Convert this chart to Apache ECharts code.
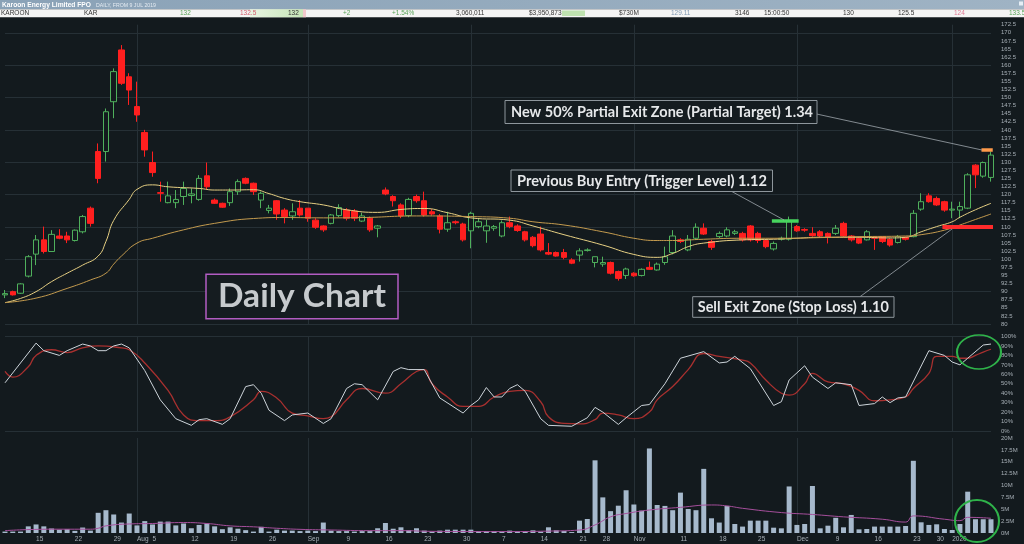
<!DOCTYPE html>
<html><head><meta charset="utf-8">
<script src="https://cdn.jsdelivr.net/npm/echarts@6/dist/echarts.min.js"></script>
<style>html,body{margin:0;padding:0;background:#131a1e;}#c{width:1024px;height:544px;}</style>
</head><body><div id="c"></div>
<script>
// ---------- categories ----------
const closedDays = ['2019-10-23','2019-10-24','2019-12-25','2019-12-26','2020-01-01'];
function buildDates(){
  const out=[]; const d=new Date(Date.UTC(2019,6,9)); const end=new Date(Date.UTC(2020,0,9));
  while(d<=end){const wd=d.getUTCDay(); const s=d.toISOString().slice(0,10);
    if(wd!==0&&wd!==6&&closedDays.indexOf(s)<0) out.push(s); d.setUTCDate(d.getUTCDate()+1);}
  return out;
}
const dates = buildDates();
const tickDates = ['2019-07-15','2019-07-22','2019-07-29','2019-08-01','2019-08-05','2019-08-12','2019-08-19','2019-08-26','2019-09-02','2019-09-09','2019-09-16','2019-09-23','2019-09-30','2019-10-07','2019-10-14','2019-10-21','2019-10-28','2019-11-01','2019-11-11','2019-11-18','2019-11-25','2019-12-02','2019-12-09','2019-12-16','2019-12-23','2019-12-30','2020-01-02'];
const tickTexts = ['15','22','29','Aug','5','12','19','26','Sep','9','16','23','30','7','14','21','28','Nov','11','18','25','Dec','9','16','23','30','2020'];
const monthStarts = ['2019-08-01','2019-09-02','2019-10-01','2019-11-01','2019-12-02','2020-01-02'];

// ---------- price (cents) ----------
const opens  = [89,90,89.5,94.8,101.6,106,102.4,107.2,107.2,105.8,108.5,115.8,133.3,133.3,148.7,164.7,156.4,147.2,139.2,129.9,120.6,117.5,117.5,119.4,119.7,118.5,125.8,118.3,117.3,117.5,120.9,125,123.5,118.3,115.1,118.1,115.2,113.4,115.8,115.8,112.1,110.3,111.1,113.5,115.2,114.9,111.8,112.7,109.6,121.4,119.4,116.8,113.5,119.4,118.1,114.7,113.4,109.3,111.6,110.9,108.8,110.1,108.8,109.6,107.2,111.3,110.3,108.5,106.8,107.8,102.1,102.1,102.1,99.8,101.3,102.7,99,98.5,99,96.2,95,95.7,95,97.5,96.7,99,102.1,106,102.9,106.5,109.6,105.5,107,107.2,108,108,110.3,108,105.8,103.2,106.2,106.2,110.1,109.2,108,108.5,108,108,111.1,107.2,106.5,106,106.8,107,106.2,105.2,106.8,107,115.5,119.6,118.8,117.8,115.2,115.2,115.8,129.1,125.7,125.3];
const closes = [89.4,89,92.4,100.8,106,102.4,107.7,106.5,106,109,113.2,111.1,125,145.6,158,154.4,152.3,144.6,133.8,126.8,120.4,119.6,118.5,121.9,120.2,125,122.4,117.3,116.1,120.9,124,123.5,120.9,120.4,115.8,114,113.2,114.7,113.7,112.7,109.9,109.1,113.7,116,112.7,112.7,113.4,109.1,110.3,120.2,118.1,113.4,118.5,118.1,113.7,114,109.3,111.3,111.3,106,114.2,111.6,110.3,110.1,111.3,110.1,108.9,106,104.2,102.9,101.6,101,100.6,98.8,102.6,102.9,100.8,99,95.7,94.1,97,94.9,96.9,96.9,98.5,100.8,107.2,105.5,106.2,109.9,107.8,103.7,108,109.1,108.5,106,106,105.8,103.9,104.9,106.5,112,108.8,109,107.3,107.2,107,109.6,107.2,106,105,108.5,106.5,105.5,104.4,107,106.2,114.2,117.8,117.8,116.8,115.2,115.5,116.3,126.1,126.1,129.9,132.2];
const lows   = [88,88.8,89.3,94.4,98.2,101.8,102.4,106.2,105,105.5,108,110.1,123.5,130.2,143.6,153.9,147.7,142.5,131.7,125.5,117.8,117.3,115.8,116.8,117.3,118.1,121.6,117.1,115.9,116.5,119.9,123.2,119.9,115.8,114.2,112.2,111.1,112.2,113.2,111.6,109.4,108.5,110.8,113,112,111.8,111.5,108.5,106.8,119.8,116.3,112.7,113,117.5,113.2,113.5,108,108.5,110.8,105.5,103.4,109.6,105.1,108.8,106.8,109.6,108.5,105.5,103.7,102.4,101.3,100.8,100,98.5,99.3,102.4,97.5,97.7,95.3,93.4,93.9,94.6,94.7,96.7,96.5,98.3,101.5,105,102.5,106,107.5,102.9,106.5,106.8,107.5,105.5,105.5,105,103.4,102.7,105.8,105.8,108.5,108.5,107,106.8,104.9,107.5,106.8,105.5,104.7,105.8,102.9,105,103.9,104.9,105.8,106.8,115,117.5,116.5,114.7,112.7,112.7,115.5,122,125.2,124];
const highs  = [90.5,90.3,92.6,101.3,107.5,110.1,109,109.3,108.5,109.2,113.7,116.3,135.8,146.6,159,166.2,157.5,154.9,140,133.3,124,124,121.4,124,121.9,126,129.9,118.8,117.5,121.9,124.7,125.3,123.7,120.9,116.8,118.3,115.8,117.3,118.3,115.8,112.7,110.5,114,117,115.8,115.5,114.4,113.2,110.6,122.2,119.8,117.3,119,120,120.9,115.5,114,114.7,112,111.3,114.7,112.7,112.2,110.6,112,113.2,110.8,108.8,107.2,110.1,105,102.4,103.2,100.3,103.4,103.4,100.8,100.8,99.3,96.5,97.4,96,97.2,99.3,99,103.9,109,106.5,107.5,111.1,111.1,106,108.6,109.9,109.1,108.5,110.6,108.5,106.2,105.5,107,113.2,110.6,109.6,109.9,109,108.3,110.6,111.6,107.5,106.8,109,107,107.2,106.5,107.5,107,115.2,120.4,120.4,119.4,118.1,117.8,117.8,126.6,129.4,130.2,133.3];

// moving averages: [barIndex, value]
const maFast = [[0,86.6],[2,87.9],[4,90],[6,93.1],[8,95.7],[10,98.2],[12,101],[13,105.5],[14,112],[16,118.5],[17,121.6],[19,123],[21,122.4],[25,121.9],[27,121.4],[29,121.4],[32,121.5],[34,120.3],[36,118.8],[38,117.8],[41,116.8],[44,115.3],[48,114.5],[51,115.4],[54,115.7],[57,114.4],[60,112.8],[65,112.1],[68,110.3],[72,107.6],[77,104.4],[81,101.5],[84,100.6],[86,101.8],[88,103.9],[90,105],[95,106],[99,106.2],[102,106.5],[105,106.8],[110,106.8],[114,106.6],[116,106.8],[118,108.5],[120,110.1],[122,111.6],[123,113],[125,115.3],[127,117.3]];
const maSlow = [[0,86.6],[4,88],[8,91],[11,93.6],[13,95.7],[14,98.5],[15,101],[17,105],[19,106.5],[23,109.1],[27,111.1],[32,112.6],[36,112.9],[41,112.8],[46,112.9],[53,113.4],[60,113.2],[65,112.7],[68,111.6],[72,110.6],[77,108.5],[81,106.5],[84,105.8],[86,105.8],[90,106.2],[95,106.5],[100,106.5],[105,106.7],[110,107],[116,107.2],[118,107.6],[121,109],[123,110.6],[125,112.3],[127,114]];

// stochastic (%): [barIndex, value]
const stochK = [[0,51],[4,93],[5,85],[7,80],[8,85],[10,92],[11,90],[12,85],[13,85],[14,90],[15,92],[16,88],[18,64],[20,33],[22,13],[24,6],[25,12],[26,13],[28,7],[29,13],[31,47],[32,49],[33,40],[34,22],[36,11],[37,17],[39,19],[41,8],[42,13],[44,45],[45,50],[46,49],[48,33],[50,63],[51,67],[52,65],[54,65],[56,35],[59,19],[60,27],[61,33],[62,46],[63,36],[64,36],[65,45],[66,49],[67,42],[69,13],[70,6],[73,5],[75,14],[76,25],[77,20],[79,7],[80,14],[82,27],[83,28],[85,50],[87,77],[90,84],[92,72],[93,73],[94,79],[96,66],[99,27],[100,31],[101,54],[103,69],[104,57],[106,45],[107,51],[109,49],[110,27],[112,29],[113,36],[114,30],[115,35],[116,36],[119,85],[121,80],[122,73],[123,70],[124,77],[126,91],[127,92]];
const stochD = [[0,63],[1,57],[3,68],[4,80],[6,86],[8,83],[10,88],[12,90],[15,88],[16,86],[18,72],[21,43],[23,17],[25,11],[27,11],[29,15],[32,33],[33,42],[35,35],[37,19],[39,16],[41,13],[42,15],[44,33],[46,45],[49,40],[51,50],[53,63],[54,65],[55,50],[57,36],[59,26],[61,26],[63,36],[65,42],[67,43],[69,31],[70,15],[72,8],[74,7.5],[76,12],[77,19],[79,17],[81,13],[83,20],[84,33],[86,47],[88,65],[90,82],[92,79],[95,75],[96,72],[98,54],[100,40],[101,38],[103,50],[104,61],[106,52],[108,50],[110,43],[112,32],[114,33],[116,36],[117,45],[119,61],[120,79],[122,79],[123,77],[124,77],[125,80],[126,83.5],[127,86.5]];

// volume (millions)
const volumes = [0.3,0.3,0.3,1.4,1.8,1.4,0.95,0.7,0.8,0.45,1.15,0.5,4.25,4.8,3.9,2.2,4.1,1.6,2.5,1.8,2.4,2.4,1.6,2.0,1.0,1.7,2.0,1.4,0.8,1.2,0.9,0.6,0.3,1.3,0.3,0.7,0.5,0.5,0.4,0.5,0.4,2.2,0.5,0.4,0.4,0.3,0.4,0.4,1.0,2.1,0.9,1.2,0.6,1.0,0.5,0.3,0.5,0.7,0.7,0.7,0.7,0.4,0.4,0.4,0.3,0.5,0.3,0.42,0.56,0.28,1.2,0.56,0.42,0.2,2.6,2.95,15.3,7.5,4.6,5.75,9.0,6.0,4.7,17.8,5.9,5.7,4.8,8.5,5.05,4.8,13.5,3.1,2.2,5.7,1.9,1.35,2.6,2.6,2.6,1.12,0.98,9.8,1.7,1.9,9.9,0.98,1.54,3.2,1.2,3.8,0.77,0.84,1.35,1.35,1.35,1.35,1.47,15.2,2.25,1.7,1.83,0.84,0.63,1.9,8.7,2.9,2.9,2.9];
const volMA = [[0,0.5],[6,0.8],[11,0.8],[12,1.0],[13,1.5],[16,1.9],[19,2.0],[23,2.2],[26,2.0],[29,1.5],[32,1.3],[35,1.0],[38,0.77],[42,0.63],[47,0.5],[51,0.5],[55,0.35],[64,0.3],[70,0.4],[74,0.63],[76,1.7],[78,3.4],[80,4.1],[83,4.84],[87,5.4],[91,5.9],[93,5.7],[95,5.2],[100,4.3],[104,3.9],[108,3.4],[113,2.9],[116,2.3],[117,3.6],[121,2.9],[123,2.6],[124,3.3],[127,3.1]];

// trade levels (cents)
const targetLevel = 134, triggerLevel = 112, stopLevel = 110;

// ---------- chart ----------
const BG = '#131a1e', GRID = '#263036', AX = '#a7afb6';
const tickMap = {}; tickDates.forEach((d,i)=>tickMap[d]=tickTexts[i]);
const idx = d => dates.indexOf(d);
const lastIdx = dates.length - 1;

function xAx(gi, show){
  return {type:'category', gridIndex:gi, data:dates, boundaryGap:false,
    axisLine:{show:false}, axisTick:{show:false},
    axisLabel:{show:show, interval:(i,v)=>tickMap[v]!==undefined, formatter:v=>tickMap[v]||'',
      align:'left', color:AX, fontSize:6.5, margin:3, fontFamily:'Liberation Sans'},
    splitLine:{show:true, interval:(i,v)=>monthStarts.indexOf(v)>=0, lineStyle:{color:GRID,width:1}}};
}
function cycle(n){const a=[GRID]; for(let i=1;i<n;i++) a.push('rgba(0,0,0,0)'); return a;}

const ctx = document.createElement('canvas').getContext('2d');
function fitText(text, cx, cy, w, font, fill, align){
  ctx.font = font; const m = ctx.measureText(text).width;
  return {type:'text', x:cx, y:cy, scaleX:w/m, z:30,
    style:{text:text, font:font, fill:fill, align:align||'center', verticalAlign:'middle'}};
}
function box(x,y,w,h,stroke,lw){return {type:'rect', z:19, shape:{x:x,y:y,width:w,height:h}, style:{fill:'#151c20',stroke:stroke,lineWidth:lw}};}
function seg(x1,y1,x2,y2){return {type:'line', z:18, shape:{x1:x1,y1:y1,x2:x2,y2:y2}, style:{stroke:'#9ea6ac',lineWidth:0.8}};}
function hdr(t,x,col,font){return {type:'text', x:x, y:13.4, z:30, style:{text:t, fill:col||'#333', font:font||'6.5px "Liberation Sans"', verticalAlign:'middle'}};}

const annFont = 'bold 15px Lato';
const graphics = [
  {type:'rect', z:25, shape:{x:0,y:0,width:1024,height:9.3}, style:{fill:new echarts.graphic.LinearGradient(0,0,1,0,[{offset:0,color:'#8aa2b7'},{offset:1,color:'#9fb3c4'}])}},
  {type:'rect', z:25, shape:{x:0,y:9.3,width:1024,height:8}, style:{fill:'#f4f4f4'}},
  {type:'rect', z:26, shape:{x:250,y:9.3,width:53,height:8}, style:{fill:new echarts.graphic.LinearGradient(0,0,1,0,[{offset:0,color:'#e8f4e2'},{offset:1,color:'#c6e6b8'}])}},
  {type:'rect', z:26, shape:{x:303,y:9.3,width:3,height:8}, style:{fill:'#f2c8cc'}},
  {type:'rect', z:26, shape:{x:562,y:10.5,width:23,height:5.5}, style:{fill:'#bfe2b0'}},
  {type:'rect', z:26, shape:{x:1019,y:1.5,width:4,height:4}, style:{fill:'#e6eef5'}},
  fitText('Karoon Energy Limited FPO',2,4.8,89,'bold 7px "Liberation Sans"','#ffffff','left'),
  fitText('DAILY, FROM 9 JUL 2019',96,5.2,60,'5px "Liberation Sans"','#e4ebf2','left'),
  hdr('KAROON',1), hdr('KAR',84), hdr('132',180,'#5aa45a'), hdr('132.5',240,'#d25a6a'), hdr('132',288),
  hdr('+2',343,'#5aa45a'), hdr('+1.54%',392,'#5aa45a'), hdr('3,060,011',456), hdr('$3,950,873',529),
  hdr('$730M',619), hdr('129.11',671,'#7f98b2'), hdr('3146',735), hdr('15:00:50',764), hdr('130',843),
  hdr('125.5',898), hdr('124',954,'#e07a94'), hdr('133.5',1009,'#5aa45a'),
  // annotations
  seg(816.6,114,982,150), seg(730,190.5,784,220), seg(860,296.7,952,229),
  box(505,100.5,312,23,'#8e969c',1), fitText('New 50% Partial Exit Zone (Partial Target) 1.34',662,112,302,annFont,'#e6e8ea'),
  box(511,170,261.5,21.5,'#8e969c',1), fitText('Previous Buy Entry (Trigger Level) 1.12',642,180.8,250,annFont,'#e6e8ea'),
  box(692.7,296.7,201.3,20.6,'#8e969c',1), fitText('Sell Exit Zone (Stop Loss) 1.10',793.3,307,191,annFont,'#e6e8ea'),
  box(206,274.3,192,44.4,'#b25cc2',1.5), fitText('Daily Chart',302,296.8,168,'bold 32px Lato','#c6cacd'),
  {type:'circle', x:979, y:352, scaleX:22/17, z:22, shape:{cx:0,cy:0,r:17}, style:{fill:'none',stroke:'#2fb34a',lineWidth:1.6}},
  {type:'circle', x:977, y:521, scaleX:22/21, z:22, shape:{cx:0,cy:0,r:21}, style:{fill:'none',stroke:'#2fb34a',lineWidth:2}}
];

const chart = echarts.init(document.getElementById('c'), null, {renderer:'canvas'});
chart.setOption({
  backgroundColor: BG, animation:false,
  grid:[
    {left:5, right:33, top:24.7, height:299.3},
    {left:5, right:33, top:336.5, height:94.5},
    {left:5, right:33, top:438, height:95}
  ],
  xAxis:[xAx(0,false), xAx(1,false), xAx(2,true)],
  yAxis:[
    {type:'value', gridIndex:0, position:'right', min:80, max:172.5, interval:2.5,
      axisLine:{show:false}, axisTick:{show:false},
      axisLabel:{color:AX, fontSize:6, margin:10, fontFamily:'Liberation Sans', formatter:v=>Number.isInteger(v)?String(v):v.toFixed(1)},
      splitLine:{show:true, lineStyle:{color:cycle(4), width:1}}},
    {type:'value', gridIndex:1, position:'right', min:0, max:100, interval:10,
      axisLine:{show:false}, axisTick:{show:false},
      axisLabel:{color:AX, fontSize:6, margin:10, fontFamily:'Liberation Sans', formatter:'{value}%'},
      splitLine:{show:true, lineStyle:{color:cycle(10), width:1}}},
    {type:'value', gridIndex:2, position:'right', min:0, max:20, interval:2.5,
      axisLine:{show:false}, axisTick:{show:false},
      axisLabel:{color:AX, fontSize:6, margin:10, fontFamily:'Liberation Sans', formatter:v=>v+'M'},
      splitLine:{show:false}}
  ],
  graphic: graphics,
  series:[
    {type:'candlestick', xAxisIndex:0, yAxisIndex:0, barWidth:6, clip:false,
      data: dates.map((d,i)=>[opens[i],closes[i],lows[i],highs[i]]),
      itemStyle:{color:BG, color0:'#ff1f1f', borderColor:'#4fb05c', borderColor0:'#ff1f1f', borderWidth:1},
      markLine:{symbol:'none', silent:true, animation:false, label:{show:false},
        data:[
          [{coord:[idx('2019-12-02')-3,triggerLevel], lineStyle:{color:'#47d45e',width:3.5,type:'solid',cap:'square'}},{coord:[idx('2019-12-02'),triggerLevel]}],
          [{coord:[idx('2020-01-08'),targetLevel], lineStyle:{color:'#ff9a4a',width:3.5,type:'solid',cap:'square'}},{coord:[lastIdx,targetLevel]}],
          [{coord:[idx('2019-12-31'),stopLevel], lineStyle:{color:'#ff2b2b',width:4,type:'solid',cap:'square'}},{coord:[lastIdx,stopLevel]}]
        ]}},
    {type:'line', xAxisIndex:0, yAxisIndex:0, data:maFast, smooth:true, symbol:'none', lineStyle:{color:'#e7d083',width:1}},
    {type:'line', xAxisIndex:0, yAxisIndex:0, data:maSlow, smooth:true, symbol:'none', lineStyle:{color:'#c39a4e',width:1}},
    {type:'line', xAxisIndex:1, yAxisIndex:1, data:stochD, smooth:true, symbol:'none', lineStyle:{color:'#a8302f',width:1.3}},
    {type:'line', xAxisIndex:1, yAxisIndex:1, data:stochK, smooth:false, symbol:'none', lineStyle:{color:'#cdd4da',width:1}},
    {type:'bar', xAxisIndex:2, yAxisIndex:2, data:volumes, barWidth:5, clip:false, itemStyle:{color:'#a6b9cc'}},
    {type:'line', xAxisIndex:2, yAxisIndex:2, data:volMA, smooth:true, symbol:'none', lineStyle:{color:'#a64f9c',width:1}}
  ]
});
</script></body></html>
